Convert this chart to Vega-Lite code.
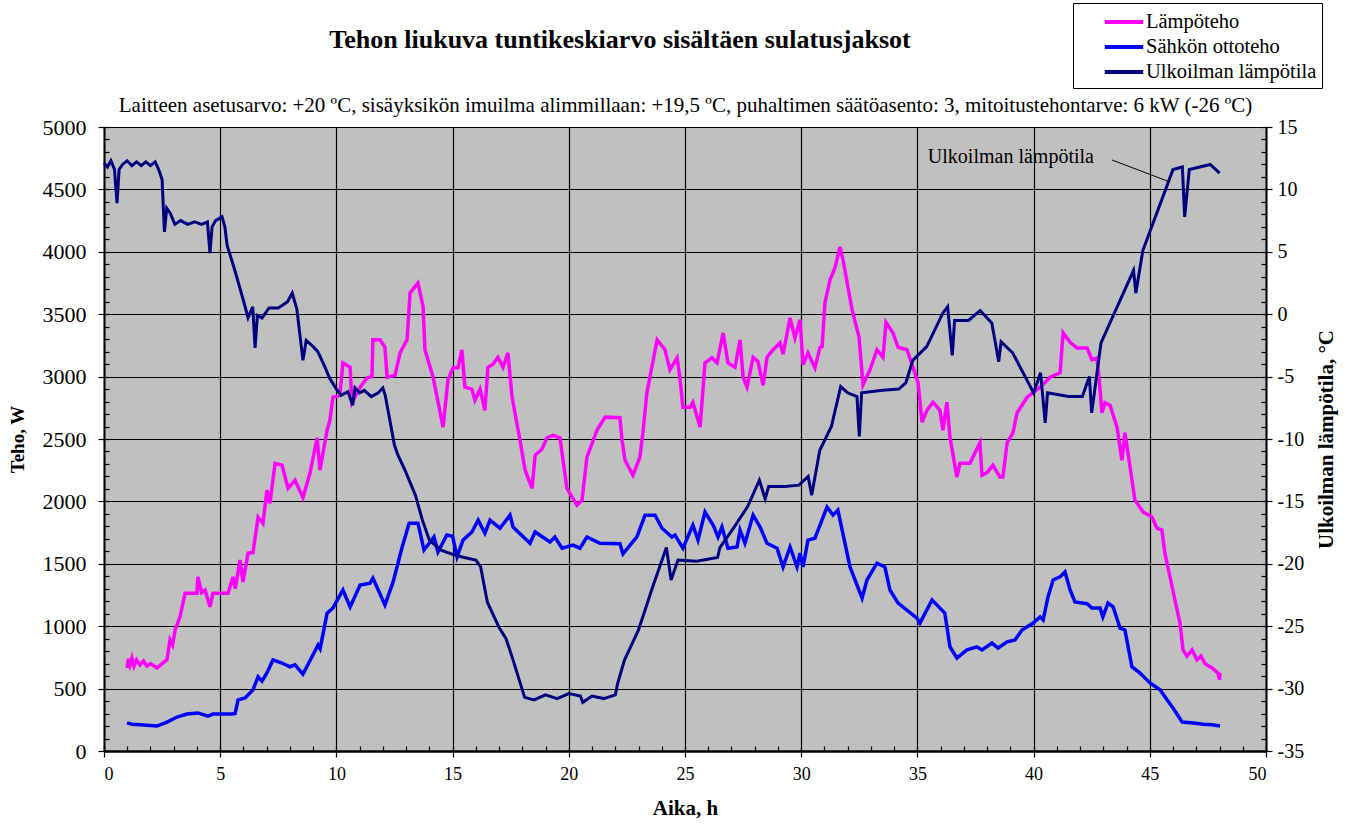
{
  "$schema": "https://vega.github.io/schema/vega-lite/v6.json",
  "width": 1162,
  "height": 624,
  "autosize": {"type": "none"},
  "padding": {"left": 104, "top": 127, "right": 91, "bottom": 73},
  "background": "white",
  "config": {
    "font": "Liberation Serif",
    "view": {"fill": "#C0C0C0", "stroke": "#A0A0A0", "strokeWidth": 1},
    "axis": {"labelFont": "Liberation Serif", "titleFont": "Liberation Serif", "labelFontSize": 18, "titleFontSize": 19, "titleFontWeight": "bold", "labelColor": "#000", "titleColor": "#000", "domainColor": "#000", "tickColor": "#000", "gridColor": "#000", "gridOpacity": 1, "gridWidth": 1.2, "tickWidth": 1.2},
    "legend": {"orient": "none", "legendX": 969, "legendY": -124, "direction": "vertical", "symbolType": "M-1.6,0H1.6", "symbolSize": 576, "symbolStrokeWidth": 4, "labelFont": "Liberation Serif", "labelFontSize": 20.5, "labelColor": "#000", "labelLimit": 400, "strokeColor": "#000", "fillColor": "#fff", "padding": 5, "rowPadding": -5, "symbolOffset": 32, "labelOffset": 8}
  },
  "title": {"text": "Tehon liukuva tuntikeskiarvo sisältäen sulatusjaksot", "font": "Liberation Serif", "fontSize": 26, "fontWeight": "bold", "color": "#000", "anchor": "middle", "frame": "group", "dx": -65, "offset": -50},
  "datasets": {
    "lampo": [
      {"h":0.99,"v":665},{"h":1.05,"v":740},{"h":1.12,"v":690},{"h":1.2,"v":745},{"h":1.29,"v":680},{"h":1.4,"v":730},{"h":1.55,"v":690},{"h":1.7,"v":720},{"h":1.85,"v":680},{"h":2.0,"v":700},{"h":2.28,"v":665},{"h":2.5,"v":700},{"h":2.71,"v":730},{"h":2.84,"v":890},{"h":2.95,"v":850},{"h":3.06,"v":970},{"h":3.27,"v":1075},{"h":3.49,"v":1265},{"h":4.0,"v":1265},{"h":4.04,"v":1395},{"h":4.2,"v":1270},{"h":4.35,"v":1290},{"h":4.56,"v":1155},{"h":4.69,"v":1265},{"h":5.34,"v":1265},{"h":5.55,"v":1395},{"h":5.65,"v":1300},{"h":5.85,"v":1530},{"h":5.98,"v":1355},{"h":6.2,"v":1585},{"h":6.41,"v":1590},{"h":6.63,"v":1875},{"h":6.84,"v":1825},{"h":7.01,"v":2090},{"h":7.14,"v":1985},{"h":7.36,"v":2305},{"h":7.66,"v":2290},{"h":7.92,"v":2105},{"h":8.22,"v":2170},{"h":8.56,"v":2030},{"h":8.86,"v":2225},{"h":9.17,"v":2510},{"h":9.29,"v":2250},{"h":9.6,"v":2570},{"h":9.72,"v":2650},{"h":9.85,"v":2835},{"h":10.15,"v":2850},{"h":10.28,"v":3110},{"h":10.59,"v":3075},{"h":10.67,"v":2790},{"h":11.02,"v":2915},{"h":11.32,"v":2990},{"h":11.53,"v":3000},{"h":11.57,"v":3295},{"h":11.88,"v":3295},{"h":12.09,"v":3235},{"h":12.18,"v":2995},{"h":12.52,"v":3010},{"h":12.74,"v":3190},{"h":13.04,"v":3295},{"h":13.17,"v":3670},{"h":13.51,"v":3750},{"h":13.73,"v":3560},{"h":13.81,"v":3215},{"h":14.16,"v":2995},{"h":14.59,"v":2595},{"h":14.8,"v":2975},{"h":15.02,"v":3070},{"h":15.23,"v":3070},{"h":15.4,"v":3215},{"h":15.53,"v":2915},{"h":15.83,"v":2900},{"h":15.96,"v":2810},{"h":16.18,"v":2900},{"h":16.39,"v":2730},{"h":16.52,"v":3075},{"h":16.74,"v":3100},{"h":16.95,"v":3155},{"h":17.17,"v":3075},{"h":17.38,"v":3190},{"h":17.56,"v":2835},{"h":17.9,"v":2490},{"h":18.12,"v":2250},{"h":18.42,"v":2105},{"h":18.55,"v":2370},{"h":18.85,"v":2420},{"h":19.06,"v":2510},{"h":19.32,"v":2530},{"h":19.62,"v":2510},{"h":19.92,"v":2105},{"h":20.35,"v":1970},{"h":20.57,"v":2010},{"h":20.78,"v":2355},{"h":21.21,"v":2570},{"h":21.56,"v":2675},{"h":22.2,"v":2670},{"h":22.29,"v":2490},{"h":22.42,"v":2330},{"h":22.76,"v":2210},{"h":23.06,"v":2355},{"h":23.2,"v":2570},{"h":23.36,"v":2870},{"h":23.8,"v":3295},{"h":24.14,"v":3215},{"h":24.35,"v":3055},{"h":24.66,"v":3150},{"h":24.78,"v":2995},{"h":24.91,"v":2755},{"h":25.22,"v":2755},{"h":25.34,"v":2795},{"h":25.65,"v":2595},{"h":25.86,"v":3110},{"h":26.16,"v":3150},{"h":26.38,"v":3110},{"h":26.64,"v":3350},{"h":26.85,"v":3110},{"h":27.15,"v":3075},{"h":27.37,"v":3295},{"h":27.5,"v":2995},{"h":27.67,"v":2915},{"h":27.93,"v":3155},{"h":28.14,"v":3120},{"h":28.36,"v":2930},{"h":28.53,"v":3155},{"h":28.79,"v":3215},{"h":29.09,"v":3270},{"h":29.22,"v":3180},{"h":29.52,"v":3470},{"h":29.73,"v":3310},{"h":29.95,"v":3455},{"h":30.08,"v":3095},{"h":30.29,"v":3190},{"h":30.59,"v":3070},{"h":30.81,"v":3235},{"h":30.9,"v":3240},{"h":31.02,"v":3590},{"h":31.24,"v":3775},{"h":31.45,"v":3870},{"h":31.67,"v":4040},{"h":31.8,"v":3935},{"h":32.19,"v":3535},{"h":32.49,"v":3315},{"h":32.66,"v":2935},{"h":32.96,"v":3055},{"h":33.26,"v":3215},{"h":33.52,"v":3155},{"h":33.65,"v":3435},{"h":33.95,"v":3350},{"h":34.17,"v":3235},{"h":34.55,"v":3215},{"h":34.81,"v":3075},{"h":35.03,"v":2950},{"h":35.2,"v":2635},{"h":35.41,"v":2730},{"h":35.67,"v":2795},{"h":35.97,"v":2730},{"h":36.1,"v":2570},{"h":36.27,"v":2795},{"h":36.4,"v":2515},{"h":36.7,"v":2195},{"h":36.83,"v":2305},{"h":37.26,"v":2305},{"h":37.69,"v":2470},{"h":37.78,"v":2210},{"h":38.0,"v":2230},{"h":38.25,"v":2290},{"h":38.55,"v":2195},{"h":38.68,"v":2195},{"h":38.86,"v":2470},{"h":39.11,"v":2550},{"h":39.29,"v":2710},{"h":39.72,"v":2835},{"h":40.28,"v":2915},{"h":40.71,"v":2995},{"h":41.14,"v":3030},{"h":41.27,"v":3350},{"h":41.57,"v":3275},{"h":41.87,"v":3230},{"h":42.3,"v":3230},{"h":42.51,"v":3135},{"h":42.73,"v":3150},{"h":42.86,"v":2895},{"h":42.94,"v":2710},{"h":43.07,"v":2790},{"h":43.29,"v":2770},{"h":43.59,"v":2595},{"h":43.8,"v":2330},{"h":43.93,"v":2550},{"h":44.15,"v":2275},{"h":44.36,"v":2010},{"h":44.71,"v":1915},{"h":45.09,"v":1875},{"h":45.31,"v":1785},{"h":45.52,"v":1770},{"h":45.65,"v":1585},{"h":45.87,"v":1395},{"h":46.08,"v":1210},{"h":46.3,"v":1025},{"h":46.43,"v":810},{"h":46.6,"v":760},{"h":46.82,"v":810},{"h":47.03,"v":730},{"h":47.2,"v":760},{"h":47.38,"v":700},{"h":47.68,"v":665},{"h":47.93,"v":625},{"h":48.0,"v":570},{"h":48.02,"v":625}
    ],
    "sahko": [
      {"h":0.99,"v":225},{"h":1.2,"v":215},{"h":1.55,"v":210},{"h":2.28,"v":200},{"h":2.71,"v":232},{"h":3.14,"v":272},{"h":3.57,"v":296},{"h":4.04,"v":305},{"h":4.47,"v":280},{"h":4.69,"v":296},{"h":5.51,"v":296},{"h":5.64,"v":300},{"h":5.77,"v":410},{"h":6.07,"v":425},{"h":6.41,"v":490},{"h":6.63,"v":595},{"h":6.8,"v":560},{"h":7.01,"v":625},{"h":7.27,"v":730},{"h":7.66,"v":705},{"h":8.0,"v":675},{"h":8.22,"v":690},{"h":8.56,"v":615},{"h":8.95,"v":755},{"h":9.21,"v":850},{"h":9.3,"v":820},{"h":9.6,"v":1105},{"h":9.85,"v":1145},{"h":10.28,"v":1290},{"h":10.59,"v":1155},{"h":11.02,"v":1330},{"h":11.45,"v":1345},{"h":11.57,"v":1385},{"h":12.09,"v":1170},{"h":12.44,"v":1355},{"h":12.83,"v":1635},{"h":13.13,"v":1825},{"h":13.51,"v":1825},{"h":13.77,"v":1610},{"h":14.2,"v":1715},{"h":14.37,"v":1595},{"h":14.75,"v":1730},{"h":15.0,"v":1720},{"h":15.19,"v":1555},{"h":15.45,"v":1690},{"h":15.83,"v":1755},{"h":16.1,"v":1850},{"h":16.39,"v":1745},{"h":16.61,"v":1850},{"h":17.04,"v":1785},{"h":17.47,"v":1890},{"h":17.6,"v":1795},{"h":18.33,"v":1665},{"h":18.55,"v":1755},{"h":19.19,"v":1675},{"h":19.4,"v":1715},{"h":19.71,"v":1625},{"h":20.18,"v":1650},{"h":20.48,"v":1625},{"h":20.78,"v":1715},{"h":21.34,"v":1665},{"h":22.2,"v":1660},{"h":22.33,"v":1580},{"h":22.93,"v":1715},{"h":23.28,"v":1890},{"h":23.71,"v":1890},{"h":24.01,"v":1785},{"h":24.44,"v":1715},{"h":24.57,"v":1730},{"h":24.91,"v":1625},{"h":25.34,"v":1810},{"h":25.56,"v":1690},{"h":25.86,"v":1915},{"h":26.21,"v":1810},{"h":26.42,"v":1715},{"h":26.59,"v":1795},{"h":26.85,"v":1625},{"h":27.24,"v":1635},{"h":27.37,"v":1770},{"h":27.58,"v":1665},{"h":27.93,"v":1890},{"h":28.23,"v":1795},{"h":28.53,"v":1665},{"h":28.96,"v":1625},{"h":29.22,"v":1475},{"h":29.52,"v":1635},{"h":29.82,"v":1475},{"h":29.95,"v":1585},{"h":30.08,"v":1475},{"h":30.29,"v":1690},{"h":30.59,"v":1705},{"h":30.81,"v":1810},{"h":31.11,"v":1955},{"h":31.37,"v":1890},{"h":31.58,"v":1930},{"h":32.1,"v":1475},{"h":32.62,"v":1225},{"h":32.83,"v":1370},{"h":33.26,"v":1505},{"h":33.6,"v":1475},{"h":33.82,"v":1290},{"h":34.17,"v":1185},{"h":34.98,"v":1065},{"h":35.11,"v":1025},{"h":35.63,"v":1210},{"h":35.97,"v":1145},{"h":36.18,"v":1105},{"h":36.4,"v":835},{"h":36.7,"v":745},{"h":37.13,"v":810},{"h":37.56,"v":835},{"h":37.78,"v":810},{"h":38.21,"v":865},{"h":38.47,"v":825},{"h":38.86,"v":875},{"h":39.2,"v":890},{"h":39.5,"v":970},{"h":39.98,"v":1025},{"h":40.28,"v":1075},{"h":40.41,"v":1050},{"h":40.62,"v":1235},{"h":40.84,"v":1370},{"h":41.14,"v":1395},{"h":41.35,"v":1435},{"h":41.57,"v":1290},{"h":41.78,"v":1195},{"h":42.3,"v":1180},{"h":42.51,"v":1145},{"h":42.86,"v":1145},{"h":42.98,"v":1075},{"h":43.2,"v":1185},{"h":43.42,"v":1155},{"h":43.72,"v":985},{"h":43.93,"v":970},{"h":44.23,"v":675},{"h":44.58,"v":625},{"h":45.01,"v":545},{"h":45.44,"v":490},{"h":45.74,"v":410},{"h":46.0,"v":345},{"h":46.39,"v":232},{"h":46.87,"v":225},{"h":47.3,"v":215},{"h":47.68,"v":210},{"h":48.02,"v":200}
    ],
    "temp": [
      {"h":0,"t":12.1},{"h":0.15,"t":11.8},{"h":0.3,"t":12.3},{"h":0.45,"t":11.6},{"h":0.56,"t":8.9},{"h":0.65,"t":11.6},{"h":0.8,"t":12.0},{"h":1.0,"t":12.3},{"h":1.2,"t":11.9},{"h":1.4,"t":12.2},{"h":1.6,"t":11.9},{"h":1.8,"t":12.2},{"h":2.0,"t":11.9},{"h":2.2,"t":12.2},{"h":2.35,"t":11.6},{"h":2.5,"t":10.8},{"h":2.6,"t":6.6},{"h":2.7,"t":8.5},{"h":2.85,"t":8.1},{"h":3.05,"t":7.2},{"h":3.3,"t":7.5},{"h":3.6,"t":7.2},{"h":3.9,"t":7.4},{"h":4.2,"t":7.2},{"h":4.45,"t":7.4},{"h":4.56,"t":4.9},{"h":4.65,"t":7.0},{"h":4.8,"t":7.5},{"h":5.08,"t":7.8},{"h":5.2,"t":7.0},{"h":5.3,"t":5.5},{"h":5.6,"t":3.7},{"h":6.0,"t":1.1},{"h":6.2,"t":-0.3},{"h":6.4,"t":0.6},{"h":6.5,"t":-2.7},{"h":6.6,"t":-0.1},{"h":6.8,"t":-0.3},{"h":7.1,"t":0.5},{"h":7.5,"t":0.5},{"h":7.9,"t":1.0},{"h":8.1,"t":1.7},{"h":8.3,"t":0.4},{"h":8.56,"t":-3.7},{"h":8.7,"t":-2.1},{"h":9.0,"t":-2.6},{"h":9.2,"t":-3.0},{"h":9.5,"t":-4.2},{"h":9.7,"t":-5.1},{"h":10.0,"t":-6.0},{"h":10.2,"t":-6.5},{"h":10.5,"t":-6.2},{"h":10.7,"t":-7.3},{"h":10.8,"t":-5.9},{"h":11.0,"t":-6.3},{"h":11.2,"t":-6.1},{"h":11.5,"t":-6.6},{"h":11.8,"t":-6.3},{"h":12.0,"t":-5.9},{"h":12.1,"t":-6.5},{"h":12.3,"t":-8.5},{"h":12.5,"t":-10.5},{"h":12.65,"t":-11.3},{"h":12.95,"t":-12.5},{"h":13.4,"t":-14.5},{"h":13.7,"t":-16.5},{"h":14.0,"t":-18.1},{"h":14.5,"t":-18.9},{"h":15.1,"t":-19.3},{"h":15.5,"t":-19.5},{"h":16.0,"t":-19.7},{"h":16.2,"t":-20.2},{"h":16.5,"t":-23.1},{"h":17.0,"t":-25.1},{"h":17.3,"t":-26.0},{"h":17.6,"t":-27.7},{"h":18.1,"t":-30.7},{"h":18.5,"t":-30.9},{"h":19.0,"t":-30.5},{"h":19.5,"t":-30.8},{"h":20.0,"t":-30.4},{"h":20.5,"t":-30.6},{"h":20.6,"t":-31.1},{"h":21.0,"t":-30.6},{"h":21.5,"t":-30.8},{"h":22.0,"t":-30.5},{"h":22.1,"t":-29.6},{"h":22.4,"t":-27.7},{"h":23.0,"t":-25.3},{"h":23.6,"t":-21.9},{"h":24.2,"t":-18.7},{"h":24.4,"t":-21.3},{"h":24.7,"t":-19.7},{"h":25.5,"t":-19.8},{"h":26.4,"t":-19.5},{"h":26.5,"t":-18.7},{"h":27.1,"t":-17.1},{"h":27.7,"t":-15.4},{"h":28.2,"t":-13.3},{"h":28.45,"t":-14.8},{"h":28.6,"t":-13.8},{"h":29.3,"t":-13.8},{"h":29.9,"t":-13.7},{"h":30.3,"t":-13.0},{"h":30.45,"t":-14.5},{"h":30.8,"t":-10.9},{"h":31.3,"t":-9.0},{"h":31.7,"t":-5.8},{"h":32.0,"t":-6.3},{"h":32.4,"t":-6.6},{"h":32.5,"t":-9.8},{"h":32.6,"t":-6.3},{"h":33.5,"t":-6.1},{"h":34.2,"t":-6.0},{"h":34.5,"t":-5.5},{"h":34.8,"t":-3.7},{"h":35.4,"t":-2.6},{"h":36.1,"t":0.1},{"h":36.3,"t":0.6},{"h":36.5,"t":-3.3},{"h":36.6,"t":-0.5},{"h":37.2,"t":-0.5},{"h":37.7,"t":0.3},{"h":38.2,"t":-0.7},{"h":38.5,"t":-3.8},{"h":38.6,"t":-2.2},{"h":39.1,"t":-3.1},{"h":40.0,"t":-6.3},{"h":40.3,"t":-4.7},{"h":40.5,"t":-8.7},{"h":40.6,"t":-6.3},{"h":41.5,"t":-6.6},{"h":42.1,"t":-6.6},{"h":42.4,"t":-5.0},{"h":42.5,"t":-7.9},{"h":42.9,"t":-2.3},{"h":43.6,"t":0.6},{"h":44.3,"t":3.5},{"h":44.4,"t":1.7},{"h":44.7,"t":5.1},{"h":45.4,"t":8.6},{"h":46.0,"t":11.6},{"h":46.4,"t":11.8},{"h":46.5,"t":7.8},{"h":46.7,"t":11.6},{"h":47.6,"t":12.0},{"h":48.0,"t":11.3}
    ]
  },
  "layer": [
    {
      "layer": [
        {
          "data": {"name": "lampo"},
          "mark": {"type": "line", "strokeWidth": 3.5},
          "encoding": {
            "x": {"field": "h", "type": "quantitative", "scale": {"domain": [0, 50], "nice": false},
                  "axis": {"orient": "bottom", "values": [0,5,10,15,20,25,30,35,40,45,50], "format": "d", "grid": true, "tickSize": 6, "domainWidth": 2.5, "labelPadding": 8, "title": "Aika, h", "titleFontSize": 21, "titlePadding": 14}},
            "y": {"field": "v", "type": "quantitative", "scale": {"domain": [0, 5000], "nice": false},
                  "axis": {"orient": "left", "values": [0,500,1000,1500,2000,2500,3000,3500,4000,4500,5000], "format": "d", "labelFontSize": 22, "grid": true, "tickSize": 6, "domainWidth": 2, "labelPadding": 12, "title": "Teho, W", "titlePadding": 15}},
            "color": {"datum": "Lämpöteho", "type": "nominal",
                      "scale": {"domain": ["Lämpöteho", "Sähkön ottoteho", "Ulkoilman lämpötila"], "range": ["#FF00FF", "#0000FF", "#000080"]},
                      "legend": {"title": null}}
          }
        },
        {
          "data": {"name": "sahko"},
          "mark": {"type": "line", "strokeWidth": 3.5},
          "encoding": {
            "x": {"field": "h", "type": "quantitative"},
            "y": {"field": "v", "type": "quantitative",
                  "axis": {"orient": "left", "values": [0,100,200,300,400,500,600,700,800,900,1000,1100,1200,1300,1400,1500,1600,1700,1800,1900,2000,2100,2200,2300,2400,2500,2600,2700,2800,2900,3000,3100,3200,3300,3400,3500,3600,3700,3800,3900,4000,4100,4200,4300,4400,4500,4600,4700,4800,4900,5000], "labels": false, "domain": false, "grid": false, "tickSize": -5, "title": null}},
            "color": {"datum": "Sähkön ottoteho", "type": "nominal"}
          }
        }
      ],
      "resolve": {"axis": {"y": "independent"}}
    },
    {
      "layer": [
        {
          "data": {"name": "temp"},
          "mark": {"type": "line", "strokeWidth": 3},
          "encoding": {
            "x": {"field": "h", "type": "quantitative", "scale": {"domain": [0, 50], "nice": false},
                  "axis": {"orient": "bottom", "values": [0,1,2,3,4,5,6,7,8,9,10,11,12,13,14,15,16,17,18,19,20,21,22,23,24,25,26,27,28,29,30,31,32,33,34,35,36,37,38,39,40,41,42,43,44,45,46,47,48,49,50], "labels": false, "domain": false, "grid": false, "tickSize": -5, "title": null}},
            "y": {"field": "t", "type": "quantitative", "scale": {"domain": [-35, 15], "nice": false},
                  "axis": {"orient": "right", "values": [-35,-30,-25,-20,-15,-10,-5,0,5,10,15], "labelExpr": "'' + datum.value", "labelFontSize": 20, "grid": false, "tickSize": 6, "domainWidth": 2, "labelPadding": 5, "title": "Ulkoilman lämpötila, °C", "titleFontSize": 21, "titleAngle": 270, "titleBaseline": "top", "titlePadding": 12}},
            "color": {"datum": "Ulkoilman lämpötila", "type": "nominal"}
          }
        },
        {
          "data": {"values": [{"label": "Ulkoilman lämpötila"}]},
          "mark": {"type": "text", "align": "left", "baseline": "middle", "fontSize": 20, "font": "Liberation Serif", "color": "#000"},
          "encoding": {
            "x": {"datum": 35.45, "type": "quantitative",
                  "axis": {"orient": "top", "labels": false, "ticks": false, "domain": false, "grid": false, "title": "Laitteen asetusarvo: +20 ºC, sisäyksikön imuilma alimmillaan: +19,5 ºC, puhaltimen säätöasento: 3, mitoitustehontarve: 6 kW (-26 ºC)", "titleFontWeight": "normal", "titleFontSize": 21, "titlePadding": 12}},
            "y": {"datum": 12.6, "type": "quantitative",
                  "axis": {"orient": "right", "values": [-35,-34,-33,-32,-31,-30,-29,-28,-27,-26,-25,-24,-23,-22,-21,-20,-19,-18,-17,-16,-15,-14,-13,-12,-11,-10,-9,-8,-7,-6,-5,-4,-3,-2,-1,0,1,2,3,4,5,6,7,8,9,10,11,12,13,14,15], "labels": false, "domain": false, "grid": false, "tickSize": -5, "title": null}},
            "text": {"field": "label", "type": "nominal"}
          }
        },
        {
          "data": {"values": [{"label": "leader"}]},
          "mark": {"type": "rule", "color": "#000", "strokeWidth": 1},
          "encoding": {
            "x": {"datum": 43.37, "type": "quantitative", "axis": null},
            "y": {"datum": 12.36, "type": "quantitative", "axis": null},
            "x2": {"datum": 45.87},
            "y2": {"datum": 10.59}
          }
        }
      ],
      "resolve": {"axis": {"x": "independent", "y": "independent"}}
    }
  ],
  "resolve": {"scale": {"y": "independent"}, "axis": {"x": "independent", "y": "independent"}}
}
